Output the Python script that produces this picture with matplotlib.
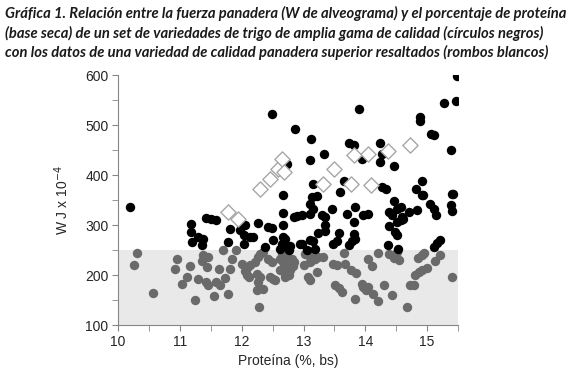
import matplotlib
matplotlib.use("Agg")
import matplotlib.pyplot as plt
from matplotlib.ticker import MultipleLocator

# circulos negros (W > 250)
black_prot = [10.19, 11.18, 11.42, 11.50, 11.58, 11.18, 11.29, 11.38, 11.19, 11.36,
              11.81, 11.78, 11.97, 12.06, 12.03, 12.04, 12.13, 12.19, 12.27, 12.43,
              12.49, 12.38, 12.51, 12.66, 12.66, 12.66, 12.84, 12.65, 12.70, 12.78,
              12.94, 12.67, 12.70, 12.62, 12.76, 12.49, 12.86, 12.73, 12.89, 12.97,
              13.10, 13.13, 13.22, 13.11, 13.16, 13.30, 13.35, 13.46, 13.35, 13.34,
              13.24, 13.11, 13.16, 12.97, 13.05, 13.19, 13.48, 13.54, 13.58, 13.73,
              13.78, 13.81, 13.81, 13.84, 13.70, 13.97, 14.05, 13.84, 13.12, 13.11,
              13.33, 13.74, 13.81, 13.15, 13.59, 13.65, 13.89, 13.94, 14.23, 14.24,
              14.27, 14.47, 14.27, 14.33, 14.89, 14.89, 15.07, 15.11, 15.39, 15.28,
              15.46, 15.48, 14.92, 14.82, 14.94, 15.41, 14.36, 14.38, 14.38, 14.43,
              14.51, 14.57, 14.59, 14.70, 14.84, 14.46, 14.57, 14.51, 14.61, 14.48,
              14.51, 14.53, 14.92, 15.05, 15.11, 15.14, 15.38, 15.41, 15.21, 15.16,
              15.11, 15.42]
black_w = [337, 303, 315, 313, 311, 287, 277, 272, 267, 260,
           293, 267, 290, 300, 280, 263, 277, 277, 305, 297,
           295, 257, 271, 360, 325, 300, 317, 263, 260, 258,
           263, 277, 273, 253, 250, 523, 493, 422, 318, 320,
           322, 357, 358, 342, 333, 320, 317, 333, 300, 288,
           285, 271, 268, 263, 250, 253, 263, 269, 285, 260,
           268, 283, 307, 337, 323, 320, 322, 273, 472, 430,
           443, 465, 460, 383, 367, 388, 532, 433, 465, 427,
           443, 418, 377, 373, 517, 508, 483, 480, 450, 545,
           549, 598, 388, 372, 361, 363, 260, 298, 327, 320,
           333, 310, 317, 327, 330, 348, 337, 307, 313, 287,
           280, 252, 360, 342, 333, 320, 340, 328, 271, 265,
           256, 362]

# circulos grises (W <= 250)
gray_prot = [10.31, 10.25, 10.57, 10.95, 10.92, 11.16, 11.11, 11.04, 11.29, 11.25,
             11.37, 11.45, 11.36, 11.43, 11.42, 11.46, 11.55, 11.59, 11.63, 11.65,
             11.69, 11.73, 11.77, 11.81, 11.84, 11.91, 12.00, 12.08, 12.05, 12.13,
             12.08, 12.11, 12.22, 12.27, 12.30, 12.35, 12.24, 12.30, 12.27, 12.24,
             12.35, 12.28, 12.43, 12.49, 12.46, 12.54, 12.51, 12.65, 12.70, 12.68,
             12.73, 12.76, 12.70, 12.81, 12.84, 12.78, 12.62, 12.67, 12.62, 12.70,
             12.83, 12.78, 12.73, 13.03, 13.08, 13.13, 13.00, 13.08, 13.11, 13.21,
             13.24, 13.32, 13.11, 13.16, 13.19, 13.48, 13.54, 13.51, 13.58, 13.62,
             13.67, 13.76, 13.65, 13.84, 13.85, 13.94, 13.97, 14.01, 14.05, 14.13,
             14.20, 14.04, 14.11, 14.21, 14.31, 14.43, 14.38, 14.46, 14.54, 14.51,
             14.67, 14.73, 14.78, 14.81, 14.87, 14.92, 14.99, 14.86, 14.92, 14.95,
             15.12, 15.21, 15.41]
gray_w = [244, 220, 165, 232, 212, 218, 197, 183, 193, 151,
          240, 237, 228, 217, 187, 181, 159, 187, 213, 180,
          250, 195, 163, 212, 233, 251, 222, 215, 208, 220,
          200, 197, 227, 237, 243, 247, 203, 197, 187, 170,
          173, 137, 233, 227, 197, 190, 193, 243, 237, 217,
          213, 200, 197, 233, 227, 220, 233, 227, 210, 203,
          218, 210, 247, 243, 240, 230, 220, 197, 191, 207,
          237, 237, 227, 243, 233, 223, 220, 180, 175, 167,
          223, 210, 245, 153, 205, 183, 177, 171, 177, 163,
          148, 233, 218, 244, 181, 161, 243, 234, 230, 247,
          137, 180, 181, 200, 206, 210, 215, 234, 240, 244,
          228, 241, 196]

# rombos blancos (variedad superior)
diam_prot = [11.78, 11.94, 12.30, 12.45, 12.58, 12.65, 12.68, 13.31, 13.50, 13.77,
             13.82, 14.04, 14.09, 14.37, 14.72]
diam_w = [327, 313, 373, 393, 413, 432, 407, 382, 413, 383,
          440, 443, 380, 449, 460]

x_ticks = [10, 11, 12, 13, 14, 15]
y_ticks = [100, 200, 300, 400, 500, 600]

plt.rcParams['font.family'] = ['Liberation Sans', 'DejaVu Sans']

fig = plt.figure(figsize=(5.82, 3.82), dpi=100)
ax = fig.add_axes([0.203, 0.149, 0.584, 0.654])

ax.axhspan(100, 250, color='#e9e9e9', zorder=0, lw=0)
ax.scatter(gray_prot, gray_w, s=46, color='#6a6a6a', zorder=2, lw=0)
ax.scatter(black_prot, black_w, s=46, color='black', zorder=3, lw=0)
ax.scatter(diam_prot, diam_w, s=60, marker='D', facecolor='white',
           edgecolor='#a6a6a6', lw=1, zorder=4)

ax.set_xlim(10, 15.5)
ax.set_ylim(100, 600)
ax.set_xticks(x_ticks)
ax.set_yticks(y_ticks)
ax.xaxis.set_minor_locator(MultipleLocator(0.5))
ax.yaxis.set_minor_locator(MultipleLocator(50))
ax.tick_params(which='both', direction='out', length=4, color='#868686',
               labelsize=10, pad=3, labelcolor='#262626')
for s in ['top', 'right']:
    ax.spines[s].set_visible(False)
for s in ['left', 'bottom']:
    ax.spines[s].set_color('#868686')

ax.set_xlabel('Proteína (%, bs)', fontsize=10, labelpad=4, color='#262626')
ax.set_ylabel('W J x 10$^{-4}$', fontsize=10, labelpad=10, color='#262626')

titulo = ("Gráfica 1. Relación entre la fuerza panadera (W de alveograma) y el porcentaje de proteína\n"
          "(base seca) de un set de variedades de trigo de amplia gama de calidad (círculos negros)\n"
          "con los datos de una variedad de calidad panadera superior resaltados (rombos blancos)")
fig.text(0.008, 0.985, titulo, ha='left', va='top', fontsize=10.6, style='italic',
         weight='bold', linespacing=1.4, color='#1a1a1a', family=['Lato', 'DejaVu Sans'])

fig.savefig('out.png', dpi=100)
